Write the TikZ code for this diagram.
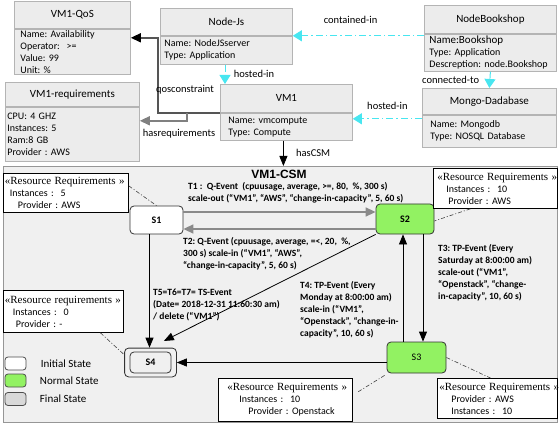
\documentclass[tikz,border=0pt]{standalone}
\usepackage{fontspec}
\setmainfont{Carlito}
\newfontfamily\rrfont{Liberation Serif}
\newfontfamily\titlefont{Liberation Sans}
\usetikzlibrary{arrows.meta,positioning,fit}
\frenchspacing

\definecolor{boxfill}{RGB}{236,236,236}
\definecolor{boxline}{RGB}{180,180,180}
\definecolor{csmfill}{RGB}{240,240,240}
\definecolor{csmline}{RGB}{150,150,150}
\definecolor{stategreen}{RGB}{146,242,98}
\definecolor{linkcyan}{RGB}{72,230,240}
\definecolor{qosgray}{RGB}{85,85,85}
\definecolor{reqgray}{RGB}{128,128,128}
\definecolor{tgray}{RGB}{138,138,138}

\newcommand{\rrhead}[1]{\mbox{\rrfont\fontsize{11}{12}\selectfont«#1 »}}

\tikzset{
  classhead/.style={draw=boxline, fill=boxfill, line width=0.8pt, inner sep=0pt,
    anchor=north west, font=\fontsize{11}{13}\selectfont},
  classbody/.style={draw=boxline, fill=boxfill, line width=0.8pt, inner ysep=0pt,
    anchor=north west, align=left, font=\fontsize{10}{12}\selectfont},
  rellabel/.style={font=\fontsize{10.5}{12}\selectfont},
  link/.style={draw=linkcyan, line width=1pt, dash pattern=on 7pt off 3pt on 1.5pt off 3pt,
    -{Triangle[length=9pt,width=11pt]}},
  csmframe/.style={draw=csmline, fill=csmfill, line width=0.8pt, anchor=north west},
  state/.style={draw=black!80, rounded corners=4pt, line width=0.8pt,
    font=\bfseries\fontsize{10}{12}\selectfont},
  trans/.style={line width=0.8pt, -{Triangle[length=10pt,width=8pt]}},
  qtrans/.style={draw=tgray, line width=1.5pt, -{Triangle[length=10pt,width=9pt]}},
  tlabel/.style={anchor=west, align=left, inner sep=0pt, font=\bfseries\fontsize{9.5}{12}\selectfont},
  rrbox/.style={draw, fill=white, line width=0.8pt, anchor=north west, align=left,
    inner ysep=0pt, font=\fontsize{10}{12}\selectfont},
  rrlink/.style={draw=black!75, line width=0.6pt, dash pattern=on 4pt off 2pt on 1pt off 2pt},
  legendbox/.style={draw=black!70, rounded corners=3pt, line width=0.8pt,
    minimum width=21pt, minimum height=13pt, inner sep=0pt},
  legendtext/.style={font=\fontsize{11}{13}\selectfont}
}

\begin{document}
\begin{tikzpicture}[x=1pt, y=-1pt]
    \useasboundingbox (0,0) rectangle (560,425);

    % クラスのボックス
    \node[classhead, minimum width=116pt, minimum height=27pt] (qoshead) at (14,1) {VM1-QoS};
    \node[classbody, minimum width=116pt, minimum height=45pt, text width=104pt, inner xsep=6pt] (qosbody) at (qoshead.south west) {Name: Availability\\Operator:~~>=\\Value: 99\\Unit: \%};

    \node[classhead, minimum width=132pt, minimum height=27pt] (nodejshead) at (160,8) {Node-Js};
    \node[classbody, minimum width=132pt, minimum height=28pt, text width=124pt, inner xsep=4pt] (nodejsbody) at (nodejshead.south west) {Name: NodeJSserver\\Type: Application};

    \node[classhead, minimum width=132pt, minimum height=28pt] (bookhead) at (424,5) {NodeBookshop};
    \node[classbody, minimum width=132pt, minimum height=37pt, text width=122pt, inner xsep=5pt] (bookbody) at (bookhead.south west) {{\fontsize{11}{12}\selectfont Name:Bookshop}\\Type: Application\\Descreption: node.Bookshop};

    \node[classhead, minimum width=134pt, minimum height=24pt] (reqhead) at (5,82) {VM1-requirements};
    \node[classbody, minimum width=134pt, minimum height=54pt, text width=130pt, inner xsep=2pt] (reqbody) at (reqhead.south west) {CPU: 4 GHZ\\Instances: 5\\Ram:8 GB\\Provider : AWS};

    \node[classhead, minimum width=132pt, minimum height=28pt] (vm1head) at (220,84) {VM1};
    \node[classbody, minimum width=132pt, minimum height=27pt, text width=116pt, inner xsep=8pt] (vm1body) at (vm1head.south west) {Name: vmcompute\\Type: Compute};

    \node[classhead, minimum width=134pt, minimum height=26pt] (mongohead) at (422,88) {Mongo-Dadabase};
    \node[classbody, minimum width=134pt, minimum height=32pt, text width=118pt, inner xsep=8pt] (mongobody) at (mongohead.south west) {Name: Mongodb\\Type: NOSQL Database};

    % 関係のエッジ
    \draw[link] (nodejsbody.north east -| bookbody.west) -- node[rellabel, above=8pt, pos=0.56] {contained-in} (nodejsbody.north east);
    \draw[link] (bookbody.south) -- node[rellabel, left=7pt] {connected-to} (mongohead.north);
    \draw[link] ([yshift=-4pt]mongobody.north west) -- node[rellabel, above=5.5pt] {hosted-in} ([yshift=-4pt]mongobody.north west -| vm1body.east);
    \draw[link] ([xshift=5pt]vm1head.north west |- nodejsbody.south) -- node[rellabel, right=5pt] {hosted-in} ([xshift=5pt]vm1head.north west);
    \draw[draw=qosgray, line width=1.5pt, -{Triangle[color=black,length=10pt,width=9pt]}] (vm1body.north west) -- ++(-62,0) |- ([yshift=-9pt]qosbody.north east);
    \node[rellabel] (qoslabel) at (185,90) {qosconstraint};
    \draw[draw=reqgray, line width=1.5pt, -{Triangle[length=10pt,width=9pt]}] ([xshift=-33pt]vm1body.north west) |- ([yshift=-14pt]reqbody.north east);
    \node[rellabel] (reqlabel) at (179,134) {hasrequirements};

    % 状態機械の枠
    \node[csmframe, minimum width=554pt, minimum height=256pt] (csm) at (3,166) {};
    \node[inner sep=0pt, font=\titlefont\bfseries\fontsize{12}{14}\selectfont] (csmtitle) at (279,174.5) {VM1-CSM};
    \draw[trans] ([xshift=-3pt]vm1body.south) -- node[rellabel, right=9pt] {hasCSM} ([xshift=-3pt]vm1body.south |- csm.north);

    % 状態
    \node[state, fill=white, minimum width=53pt, minimum height=28pt] (s1) at (156.5,220) {S1};
    \node[state, fill=stategreen, minimum width=58pt, minimum height=30pt] (s2) at (405,219) {S2};
    \node[state, fill=stategreen, minimum width=59pt, minimum height=31pt, font=\fontsize{10}{12}\selectfont] (s3) at (416.5,357.5) {S3};
    \node[state, fill=csmfill, minimum width=41pt, minimum height=21pt] (s4) at (150.5,362.5) {S4};
    \node[state, fit=(s4), inner xsep=5pt, inner ysep=3.5pt] (s4out) {};

    % 遷移
    \draw[qtrans] ([yshift=8pt]s1.east) -- ([yshift=8pt]s1.east -| s2.west);
    \draw[qtrans] ([yshift=-10pt]s2.west) -- ([yshift=-10pt]s2.west -| s1.east);
    \draw[trans] ([xshift=-7pt]s1.south) -- ([xshift=-7pt]s1.south |- s4out.north);
    \draw[trans, shorten >=15pt] (s2.south west) -- (s4out.north);
    \draw[trans] ([xshift=-2pt]s2.south |- s3.north) -- ([xshift=-2pt]s2.south);
    \draw[trans] ([xshift=18pt]s2.south) -- ([xshift=18pt]s2.south |- s3.north);
    \draw[trans] ([yshift=-5pt]s3.west) -- ([yshift=-5pt]s3.west -| s4out.east);

    \node[tlabel] (t1) at (188,192.5) {T1 :~~Q-Event~~(cpuusage, average, >=, 80,~~\%, 300 s)\\scale-out (“VM1”, “AWS”, “change-in-capacity”, 5, 60 s)};
    \node[tlabel] (t2) at (183,253.5) {T2: Q-Event (cpuusage, average, =<, 20,~~\%,\\300 s) scale-in (“VM1”, “AWS”,\\“change-in-capacity”, 5, 60 s)};
    \node[tlabel] (t3) at (438,272.5) {T3: TP-Event (Every\\Saturday at 8:00:00 am)\\scale-out (“VM1”,\\“Openstack”, “change-\\in-capacity”, 10, 60 s)};
    \node[tlabel] (t4) at (300,310) {T4: TP-Event (Every\\Monday at 8:00:00 am)\\scale-in (“VM1”,\\“Openstack”, “change-in-\\capacity”, 10, 60 s)};
    \node[tlabel] (t5) at (153,305) {T5=T6=T7= TS-Event\\(Date= 2018-12-31 11:60:30 am)\\/ delete (“VM1”)};

    % リソース要件
    \node[rrbox, minimum width=125pt, minimum height=39pt, text width=122pt, inner xsep=1.5pt] (rr1) at (3,173) {\rrhead{Resource Requirements}\\\hspace*{5pt}Instances :~~5\\\hspace*{13pt}Provider : AWS};
    \node[rrbox, minimum width=124pt, minimum height=40pt, text width=116pt, inner xsep=4pt] (rr2) at (433,168) {\rrhead{Resource Requirements}\\\hspace*{9pt}Instances :~~10\\\hspace*{11pt}Provider : AWS};
    \node[rrbox, minimum width=120pt, minimum height=42pt, text width=117pt, inner xsep=1.5pt] (rr3) at (3,290) {\rrhead{Resource requirements}\\\hspace*{8pt}Instances :~~0\\\hspace*{11pt}Provider : -};
    \node[rrbox, minimum width=134pt, minimum height=43pt, text width=116pt, inner xsep=9pt] (rr4) at (218,378) {\rrhead{Resource Requirements}\\\hspace*{12pt}Instances :~~10\\\hspace*{21pt}Provider : Openstack};
    \node[rrbox, minimum width=120pt, minimum height=40pt, text width=116pt, inner xsep=2pt] (rr5) at (437,378) {\rrhead{Resource Requirements}\\\hspace*{12pt}Provider : AWS\\\hspace*{12pt}Instances :~~10};

    \draw[rrlink] ([yshift=7pt]rr1.east) -- (s1.north);
    \draw[rrlink] ([xshift=-25pt]rr2.south) -- ([yshift=-2pt]s2.east);
    \draw[rrlink] ([xshift=37pt]rr3.south) -- ([yshift=-7pt]s4out.north west);
    \draw[rrlink] ([xshift=-2pt,yshift=-2pt]s3.south west) -- ([xshift=5pt,yshift=-14pt]rr4.north east);
    \draw[rrlink] (s3.east) -- ([xshift=-7pt]rr5.north);

    % 凡例
    \node[legendbox, fill=white] (leginit) at (15.5,363.5) {};
    \node[legendbox, fill=stategreen] (legnormal) at (15.5,380.5) {};
    \node[legendbox, fill=black!15] (legfinal) at (15.5,399) {};
    \node[legendtext, right=11pt of leginit] (leginittext) {Initial State};
    \node[legendtext, right=10pt of legnormal] (legnormaltext) {Normal State};
    \node[legendtext, right=10pt of legfinal] (legfinaltext) {Final State};
\end{tikzpicture}
\end{document}
